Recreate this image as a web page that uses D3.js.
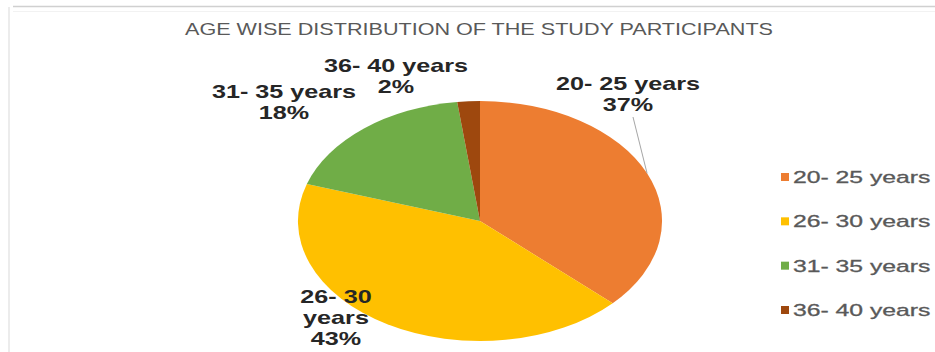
<!DOCTYPE html>
<html>
<head>
<meta charset="utf-8">
<script src="https://cdn.jsdelivr.net/npm/d3@7"></script>
<style>
  html, body { margin: 0; padding: 0; background: #fff; }
  svg { display: block; }
  text { font-family: "Liberation Sans", Arial, sans-serif; }
</style>
</head>
<body>
<div id="chart"></div>
<script>
const title = 'AGE WISE DISTRIBUTION OF THE STUDY PARTICIPANTS';
const categories = ['20- 25 years', '26- 30 years', '31- 35 years', '36- 40 years'];
const values = [37, 43, 18, 2];
const colors = ['#ED7D31', '#FFC000', '#70AD47', '#9E480E'];
// data label text lines (as printed on the chart)
const labelLines = [
    ['20- 25 years', '37%'],
    ['26- 30', 'years', '43%'],
    ['31- 35 years', '18%'],
    ['36- 40 years', '2%']
];

// layout
const width = 935, height = 352;
const cx = 480, cy = 221, radius = 120, stretch = 1.517;
const labelPos = [[628, 90], [336, 303], [284, 98], [396, 72]];
const lineHeight = 21;

const svg = d3.select('#chart').append('svg')
    .attr('width', width).attr('height', height);

// faint frame of the original screenshot
svg.append('line').attr('x1', 13).attr('x2', width).attr('y1', 6.5).attr('y2', 6.5)
    .attr('stroke', '#d0d0d0').attr('stroke-width', 1.5);
svg.append('line').attr('x1', 13).attr('x2', width).attr('y1', 11.5).attr('y2', 11.5)
    .attr('stroke', '#f2f2f2').attr('stroke-width', 1);
svg.append('line').attr('x1', 9).attr('x2', 9).attr('y1', 7).attr('y2', height)
    .attr('stroke', '#ececec').attr('stroke-width', 2);

svg.append('text')
    .attr('transform', `translate(479,35) scale(1.27,1)`)
    .attr('text-anchor', 'middle')
    .attr('font-size', 17)
    .attr('fill', '#595959')
    .text(title);

const pie = d3.pie().sort(null).value(d => d);
const arcs = pie(values);
const arc = d3.arc().innerRadius(0).outerRadius(radius);
const edge = d3.arc().innerRadius(radius).outerRadius(radius);

const pieGroup = svg.append('g')
    .attr('transform', `translate(${cx},${cy}) scale(${stretch},1)`);
pieGroup.selectAll('path').data(arcs).join('path')
    .attr('d', arc)
    .attr('fill', (_, i) => colors[i]);

// leader line for the first slice
const [ex, ey] = edge.centroid(arcs[0]);
svg.append('line')
    .attr('x1', labelPos[0][0] + 5).attr('y1', labelPos[0][1] + 27)
    .attr('x2', cx + ex * stretch).attr('y2', cy + ey)
    .attr('stroke', '#a6a6a6').attr('stroke-width', 1);

// data labels
const labels = svg.selectAll('.label').data(labelLines).join('text')
    .attr('class', 'label')
    .attr('transform', (_, i) => `translate(${labelPos[i][0]},${labelPos[i][1]}) scale(1.4,1)`)
    .attr('text-anchor', 'middle')
    .attr('font-size', 18)
    .attr('font-weight', 'bold')
    .attr('fill', '#262626');
labels.selectAll('tspan').data(d => d).join('tspan')
    .attr('x', 0)
    .attr('y', (_, j) => j * lineHeight)
    .text(d => d);

// legend
const legendY = d3.scalePoint().domain(categories).range([177, 310]);
const legend = svg.selectAll('.legend').data(categories).join('g')
    .attr('class', 'legend')
    .attr('transform', d => `translate(781,${legendY(d)})`);
legend.append('rect')
    .attr('x', 0).attr('y', -4).attr('width', 8).attr('height', 8)
    .attr('fill', (_, i) => colors[i]);
legend.append('text')
    .attr('transform', 'translate(12,6) scale(1.5,1)')
    .attr('font-size', 16.5)
    .attr('fill', '#595959')
    .attr('stroke', '#595959')
    .attr('stroke-width', 0.3)
    .text(d => d);
</script>
</body>
</html>
